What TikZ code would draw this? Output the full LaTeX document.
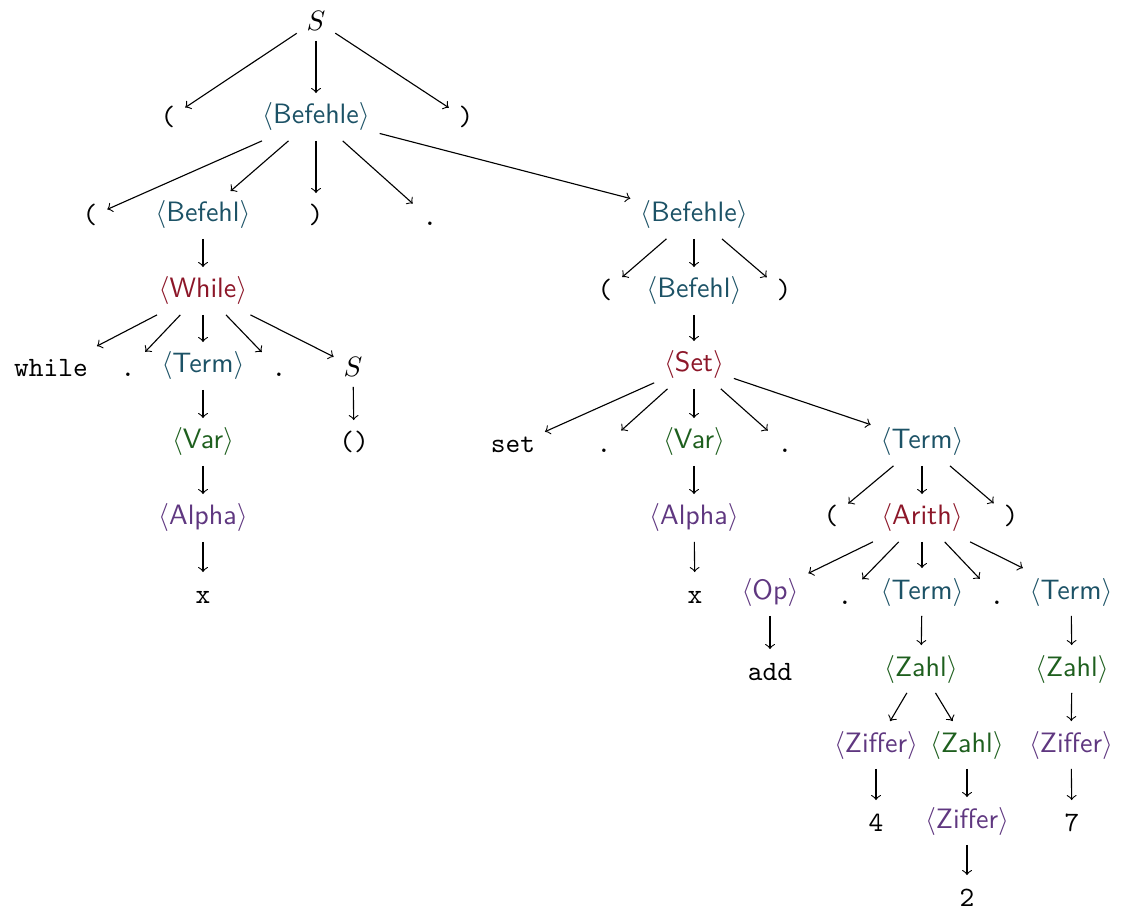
\documentclass[tikz,border=0pt]{standalone}
\definecolor{cteal}{RGB}{28,82,102}
\definecolor{cred}{RGB}{140,22,40}
\definecolor{cgreen}{RGB}{30,95,30}
\definecolor{cpurple}{RGB}{95,55,128}
\newcommand{\NT}[1]{$\langle$#1$\rangle$}
\begin{document}
\begin{tikzpicture}[x=0.357pt,y=-0.357pt,
  every node/.style={anchor=base,text height=7.5pt,text depth=2.5pt,inner sep=0.333em},
  nt/.style={font=\sffamily,text=#1},
  tm/.style={font=\ttfamily},
  mv/.style={text depth=0pt},
  arr/.style={->}]
\useasboundingbox (0,0) rectangle (1122,912);
% level 0
\node[mv] (S0) at (316,31) {$S$};
% level 1
\node[tm] (p1l) at (168,126) {(};
\node[nt=cteal] (B1) at (316,124) {\NT{Befehle}};
\node[tm] (p1r) at (466,126) {)};
% level 2
\node[tm] (p2l) at (90,224) {(};
\node[nt=cteal] (Bl) at (203,222) {\NT{Befehl}};
\node[tm] (p2r) at (316,224) {)};
\node[tm] (d2) at (430,226) {.};
\node[nt=cteal] (B2) at (694,222) {\NT{Befehle}};
% level 3
\node[nt=cred] (W) at (203,298) {\NT{While}};
\node[tm] (p3l) at (605,299) {(};
\node[nt=cteal] (Br) at (694,298) {\NT{Befehl}};
\node[tm] (p3r) at (784,299) {)};
% level 4
\node[tm] (while) at (51,377) {while};
\node[tm] (d4a) at (128,377) {.};
\node[nt=cteal] (T4) at (203,373) {\NT{Term}};
\node[tm] (d4b) at (279,377) {.};
\node[mv] (S4) at (353,377) {$S$};
\node[nt=cred] (Set) at (694,372) {\NT{Set}};
% level 5
\node[nt=cgreen] (V5) at (203,449) {\NT{Var}};
\node[tm] (par5) at (354,451) {()};
\node[tm] (set) at (513,453) {set};
\node[tm] (d5a) at (604,453) {.};
\node[nt=cgreen] (V5r) at (694,449) {\NT{Var}};
\node[tm] (d5b) at (785,453) {.};
\node[nt=cteal] (T5) at (922,449) {\NT{Term}};
% level 6
\node[nt=cpurple] (A6) at (203,525) {\NT{Alpha}};
\node[nt=cpurple] (A6r) at (694,525) {\NT{Alpha}};
\node[tm] (p6l) at (831,525) {(};
\node[nt=cred] (Ar) at (922,525) {\NT{Arith}};
\node[tm] (p6r) at (1011,525) {)};
% level 7
\node[tm] (x7) at (203,603) {x};
\node[tm] (x7r) at (695,603) {x};
\node[nt=cpurple] (Op) at (770,599) {\NT{Op}};
\node[tm] (d7a) at (845,604) {.};
\node[nt=cteal] (T7) at (922,599) {\NT{Term}};
\node[tm] (d7b) at (997,604) {.};
\node[nt=cteal] (T7r) at (1071,599) {\NT{Term}};
% level 8
\node[tm] (add) at (770,680) {add};
\node[nt=cgreen] (Z8) at (921,676) {\NT{Zahl}};
\node[nt=cgreen] (Z8r) at (1072,676) {\NT{Zahl}};
% level 9
\node[nt=cpurple] (Zf9) at (876,752) {\NT{Ziffer}};
\node[nt=cgreen] (Z9) at (967,752) {\NT{Zahl}};
\node[nt=cpurple] (Zf9r) at (1071,752) {\NT{Ziffer}};
% level 10
\node[tm] (four) at (876,831) {4};
\node[nt=cpurple] (Zf10) at (967,828) {\NT{Ziffer}};
\node[tm] (seven) at (1072,831) {7};
% level 11
\node[tm] (two) at (967,906) {2};
% edges
\foreach \a/\b in {S0/p1l,S0/B1,S0/p1r,
  B1/p2l,B1/Bl,B1/p2r,B1/d2,B1/B2,
  Bl/W,W/while,W/d4a,W/T4,W/d4b,W/S4,T4/V5,V5/A6,A6/x7,S4/par5,
  B2/p3l,B2/Br,B2/p3r,Br/Set,
  Set/set,Set/d5a,Set/V5r,Set/d5b,Set/T5,V5r/A6r,A6r/x7r,
  T5/p6l,T5/Ar,T5/p6r,
  Ar/Op,Ar/d7a,Ar/T7,Ar/d7b,Ar/T7r,Op/add,
  T7/Z8,Z8/Zf9,Z8/Z9,Zf9/four,Z9/Zf10,Zf10/two,
  T7r/Z8r,Z8r/Zf9r,Zf9r/seven}
  \draw[arr] (\a) -- (\b);
\end{tikzpicture}
\end{document}
